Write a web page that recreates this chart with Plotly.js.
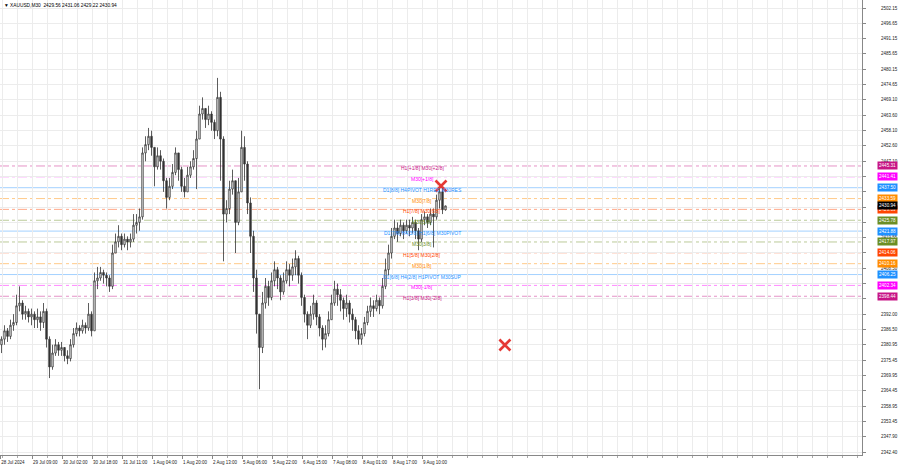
<!DOCTYPE html>
<html><head><meta charset="utf-8">
<script src="https://cdn.plot.ly/plotly-3.0.1.min.js"></script>
<style>html,body{margin:0;padding:0;background:#fff}#c{width:900px;height:468px}</style>
</head><body><div id="c"></div>
<script>
// ---- data (XAUUSD M30) ----
const symbol = 'XAUUSD,M30';
const open = [2381,2383,2386,2384,2388,2389,2395,2396,2392,2393,
2391,2392,2390,2391,2389,2393,2383,2373,2378,2381,
2379,2380,2377,2376,2381,2385,2387,2386,2388,2387,
2392,2386,2404,2405,2407,2406,2405,2402,2414,2418,
2420,2417,2419,2418,2419,2424,2425,2427,2450,2453,
2456,2452,2445,2449,2447,2440,2434,2438,2443,2450,
2444,2438,2436,2442,2445,2448,2455,2464,2466,2462,
2464,2461,2458,2470,2455,2428,2430,2437,2440,2425,
2436,2452,2446,2432,2420,2405,2392,2380,2396,2402,
2398,2404,2408,2405,2400,2404,2408,2406,2409,2412,
2406,2398,2392,2388,2392,2396,2391,2387,2383,2385,
2390,2396,2401,2399,2397,2394,2396,2392,2390,2386,
2383,2385,2389,2393,2395,2394,2397,2395,2402,2408,
2414,2420,2423,2421,2424,2422,2424,2423,2425,2422,
2419,2426,2427,2425,2428,2427,2433,2436,2429.56];
const high = [2384,2388,2387,2390,2392,2399,2402,2397,2395,2394,
2394,2393,2394,2393,2396,2394,2384,2381,2383,2382,
2382,2380,2379,2383,2387,2389,2388,2390,2389,2396,
2393,2407,2409,2409,2408,2407,2406,2417,2421,2424,
2421,2421,2420,2421,2428,2428,2430,2452,2456,2459,
2458,2452,2452,2451,2448,2441,2441,2446,2452,2450,
2445,2441,2445,2447,2451,2458,2467,2470,2466,2467,
2465,2462,2477,2472,2456,2433,2440,2444,2440,2441,
2458,2456,2447,2434,2422,2408,2392,2400,2405,2404,
2407,2411,2409,2406,2407,2411,2410,2412,2415,2413,
2407,2399,2393,2395,2399,2397,2392,2388,2388,2393,
2399,2404,2403,2401,2398,2399,2397,2394,2391,2388,
2387,2391,2395,2398,2397,2399,2398,2405,2412,2417,
2423,2426,2425,2426,2425,2426,2426,2427,2426,2423,
2428,2429,2428,2430,2430,2435,2438,2437,2431.06];
const low = [2378,2381,2382,2383,2386,2388,2393,2390,2390,2389,
2388,2387,2387,2386,2387,2380,2369,2372,2377,2377,
2377,2375,2374,2375,2380,2384,2384,2385,2385,2386,
2384,2386,2401,2404,2403,2402,2400,2401,2414,2416,
2415,2416,2415,2416,2418,2421,2422,2426,2447,2451,
2449,2438,2444,2444,2436,2430,2433,2437,2442,2440,
2436,2434,2436,2441,2444,2437,2455,2462,2459,2460,
2458,2455,2456,2440,2411,2425,2428,2435,2414,2424,
2436,2440,2428,2414,2400,2385,2365,2378,2394,2395,
2397,2402,2401,2397,2399,2403,2402,2404,2406,2403,
2395,2389,2383,2387,2390,2388,2384,2379,2380,2384,
2390,2395,2395,2393,2390,2391,2389,2386,2383,2381,
2381,2384,2388,2391,2391,2393,2392,2394,2401,2406,
2412,2419,2418,2420,2419,2421,2420,2421,2419,2415,
2418,2424,2423,2424,2416,2426,2430,2428,2429.22];
const close = [2383,2386,2384,2388,2389,2395,2396,2392,2393,2391,
2392,2390,2391,2389,2393,2383,2373,2378,2381,2379,
2380,2377,2376,2381,2385,2387,2386,2388,2387,2392,
2386,2404,2405,2407,2406,2405,2402,2414,2418,2420,
2417,2419,2418,2419,2424,2425,2427,2450,2453,2456,
2452,2445,2449,2447,2440,2434,2438,2443,2450,2444,
2438,2436,2442,2445,2448,2455,2464,2466,2462,2464,
2461,2458,2470,2455,2428,2430,2437,2440,2425,2436,
2452,2446,2432,2420,2405,2392,2380,2396,2402,2398,
2404,2408,2405,2400,2404,2408,2406,2409,2412,2406,
2398,2392,2388,2392,2396,2391,2387,2383,2385,2390,
2396,2401,2399,2397,2394,2396,2392,2390,2386,2383,
2385,2389,2393,2395,2394,2397,2395,2402,2408,2414,
2420,2423,2421,2424,2422,2424,2423,2425,2422,2419,
2426,2427,2425,2428,2427,2433,2436,2429.56,2430.94];

const timeLabels = ['28 Jul 2024','29 Jul 09:00','30 Jul 02:00','30 Jul 18:00','31 Jul 11:00',
  '1 Aug 04:00','1 Aug 20:00','2 Aug 13:00','5 Aug 06:00','5 Aug 22:00','6 Aug 15:00',
  '7 Aug 08:00','8 Aug 01:00','8 Aug 17:00','9 Aug 10:00'];
const timeTickBars = [-0.45,10.17,20.17,30.17,40.17,50.17,60.17,70.17,80.17,90.17,100.17,110.17,120.17,130.17,140.17];

const priceTicks = [2502.15,2496.65,2491.15,2485.65,2480.15,2474.65,2469.10,2463.60,2458.10,2452.60,
  2447.10,2441.60,2436.05,2430.55,2425.05,2419.55,2414.05,2408.50,2403.00,2397.50,
  2392.00,2386.50,2380.95,2375.45,2369.95,2364.45,2358.95,2353.45,2347.90,2342.40];
const hiddenTicks = [2441.60,2436.05,2430.55,2425.05,2414.05,2403.00,2397.50];

const levelValues = [2445.31,2441.41,2437.50,2433.59,2429.69,2425.78,2421.88,2417.97,2414.06,2410.16,2406.25,2402.34,2398.44];
const levelNames = ['H1[+1/8] M30[+2/8]','M30[+1/8]','D1[8/8] H4PIVOT H1RES M30RES','M30[7/8]','H1[7/8] M30[6/8]',
  'M30[5/8]','D1[7/8] H4[3/8] H1[6/8] M30PIVOT','M30[3/8]','H1[5/8] M30[2/8]','M30[1/8]',
  'D1[6/8] H4[2/8] H1PIVOT M30SUP','M30[-1/8]','H1[3/8] M30[-2/8]'];
const levelColors = ['#c71585','#ff00ff','#1e90ff','#ff8c00','#ff4500','#6b8e23','#1e90ff','#6b8e23','#ff4500','#ff8c00','#1e90ff','#ff00ff','#c71585'];
const levelSolid = [false,false,true,false,false,false,true,false,false,false,true,false,false];

const markBars = [146.5, 167.8];
const markPrices = [2438.1, 2380.9];

// ---- build ----
const xs = close.map((_, i) => i);
const labelBar = 140.2;

const candles = {
  type: 'candlestick', x: xs, open: open, high: high, low: low, close: close,
  increasing: {line: {color: '#333333', width: 0.8}, fillcolor: '#ffffff'},
  decreasing: {line: {color: '#333333', width: 0.8}, fillcolor: '#333333'},
  whiskerwidth: 0, hoverinfo: 'skip', showlegend: false
};
const marks = {
  type: 'scatter', mode: 'markers', x: markBars, y: markPrices,
  marker: {symbol: 'x-thin', size: 11, color: '#e53935', line: {color: '#e53935', width: 2.6}},
  hoverinfo: 'skip', showlegend: false
};

const shapes = levelValues.map((v, i) => ({
  type: 'line', xref: 'paper', x0: 0, x1: 1, yref: 'y', y0: v, y1: v, layer: 'below',
  line: {color: levelColors[i], width: 1, dash: levelSolid[i] ? 'solid' : 'dashdot'},
  opacity: levelSolid[i] ? 0.4 : 0.45
}));

const annotations = [];
levelValues.forEach((v, i) => {
  annotations.push({x: labelBar, y: v, xref: 'x', yref: 'y', text: levelNames[i], showarrow: false,
    xanchor: 'center', yanchor: 'middle', yshift: -2,
    font: {family: 'Liberation Sans, Arial, sans-serif', size: 5, color: levelColors[i]}});
  annotations.push({x: 1, y: v, xref: 'paper', yref: 'y', text: v.toFixed(2), showarrow: false,
    xanchor: 'left', yanchor: 'middle', xshift: 15,
    bgcolor: levelColors[i], borderpad: 1,
    font: {family: 'Liberation Sans, Arial, sans-serif', size: 4.6, color: '#ffffff'}});
});
const last = close.length - 1;
annotations.push({x: 1, y: close[last], xref: 'paper', yref: 'y', text: close[last].toFixed(2), showarrow: false,
  xanchor: 'left', yanchor: 'middle', xshift: 15, bgcolor: '#000000', borderpad: 1,
  font: {family: 'Liberation Sans, Arial, sans-serif', size: 4.6, color: '#ffffff'}});
annotations.push({x: 0, y: 1, xref: 'paper', yref: 'paper', xanchor: 'left', yanchor: 'top', xshift: 2, yshift: -1,
  showarrow: false,
  text: '\u25BC ' + symbol + '  ' + [open[last], high[last], low[last], close[last]].map(v => v.toFixed(2)).join(' '),
  font: {family: 'Liberation Sans, DejaVu Sans, sans-serif', size: 4.8, color: '#000000'}});

const layout = {
  width: 900, height: 468,
  margin: {l: 0, r: 38, t: 0, b: 13, pad: 0},
  paper_bgcolor: '#ffffff', plot_bgcolor: '#ffffff',
  showlegend: false, hovermode: false, dragmode: false,
  xaxis: {
    type: 'linear', range: [-0.5, 286.83], rangeslider: {visible: false}, fixedrange: true,
    tickmode: 'array', tickvals: timeTickBars, ticktext: timeLabels, tickangle: 0,
    ticklabelposition: 'outside right', ticklabelstandoff: 3,
    ticks: 'outside', ticklen: 3, tickcolor: '#888',
    showgrid: true, gridcolor: '#ececec', gridwidth: 1,
    minor: {tick0: 0.17, dtick: 5, showgrid: true, gridcolor: '#ececec', ticks: 'outside', ticklen: 2, tickcolor: '#aaa'},
    showline: true, linecolor: '#888', linewidth: 1, mirror: false, zeroline: false,
    tickfont: {family: 'Liberation Sans, Arial, sans-serif', size: 4.5, color: '#222'}
  },
  yaxis: {
    side: 'right', range: [2341.32, 2505.03], fixedrange: true,
    tickmode: 'array', tickvals: priceTicks,
    ticktext: priceTicks.map(v => hiddenTicks.includes(v) ? '' : v.toFixed(2)),
    ticks: 'outside', ticklen: 3, tickcolor: '#888', ticklabelstandoff: 14,
    showgrid: true, gridcolor: '#ececec', gridwidth: 1,
    showline: true, linecolor: '#888', linewidth: 1, zeroline: false,
    tickfont: {family: 'Liberation Sans, Arial, sans-serif', size: 4.5, color: '#222'}
  },
  shapes: shapes,
  annotations: annotations
};

Plotly.newPlot('c', [candles, marks], layout, {displayModeBar: false, staticPlot: true});
</script>
</body></html>
